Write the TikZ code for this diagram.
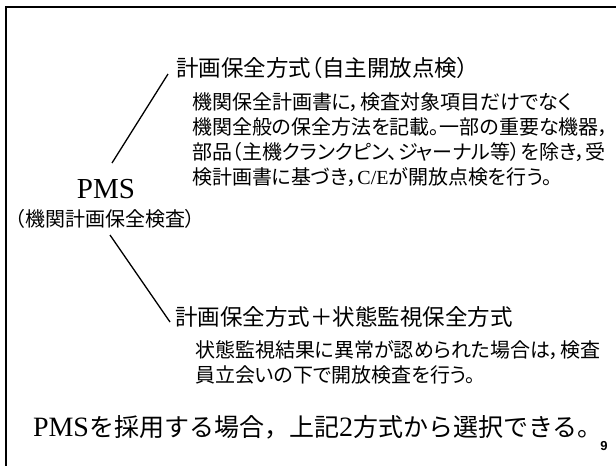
\documentclass[tikz,border=0pt]{standalone}
\usepackage{fontspec}
\setmainfont{Liberation Serif}
\newfontfamily\jp[RawFeature=+palt]{Noto Sans CJK JP}
\newfontfamily\jpfull{Noto Sans CJK JP}
\newfontfamily\numfont{Liberation Sans}
\begin{document}
\begin{tikzpicture}[x=1pt,y=-1pt,
  every node/.style={inner sep=0pt, outer sep=0pt},
  headtxt/.style={anchor=west, font=\jp\fontsize{22.5}{22.5}\selectfont},
  bodytxt/.style={anchor=west, font=\jp\fontsize{20}{20}\selectfont},
  conn/.style={line width=1.3pt, black},
  framel/.style={line width=2pt, black}]
\useasboundingbox (0,0) rectangle (616,466);
\draw[framel] (6,470) -- (6,7) -- (620,7);

\node[headtxt] (h1) at (176,68) {計画保全方式（自主開放点検）};
\node[bodytxt] (b1a) at (192,102) {機関保全計画書に，検査対象項目だけでなく};
\node[bodytxt] (b1b) at (192,127) {機関全般の保全方法を記載。一部の重要な機器，};
\node[bodytxt] (b1c) at (192,152) {部品（主機クランクピン、ジャーナル等）を除き，受};
\node[bodytxt] (b1d) at (192,177) {検計画書に基づき，{\rmfamily C/E}が開放点検を行う。};

\node[font=\rmfamily\fontsize{29}{29}\selectfont] (pms) at (106,189.5) {PMS};
\node[font=\jp\fontsize{20}{20}\selectfont] (pmsj) at (105,218.5) {（機関計画保全検査）};

\node[headtxt] (h2) at (175,317) {計画保全方式＋状態監視保全方式};
\node[bodytxt] (b2a) at (195,350) {状態監視結果に異常が認められた場合は，検査};
\node[bodytxt] (b2b) at (195,374.5) {員立会いの下で開放検査を行う。};

\node[anchor=base west] (fin) at (33,436) {\rmfamily\fontsize{28}{28}\selectfont PMS\jpfull\fontsize{25}{25}\selectfont を採用する場合，上記\rmfamily\fontsize{28}{28}\selectfont 2\jpfull\fontsize{25}{25}\selectfont 方式から選択できる\jp 。};
\node[font=\numfont\bfseries\fontsize{13}{13}\selectfont] (pg) at (604,446) {9};

\coordinate (u0) at (112,163);
\coordinate (u1) at (168,74);
\coordinate (l0) at (110,235);
\coordinate (l1) at (170,322);
\draw[conn] (u0) -- (u1);
\draw[conn] (l0) -- (l1);
\end{tikzpicture}
\end{document}
